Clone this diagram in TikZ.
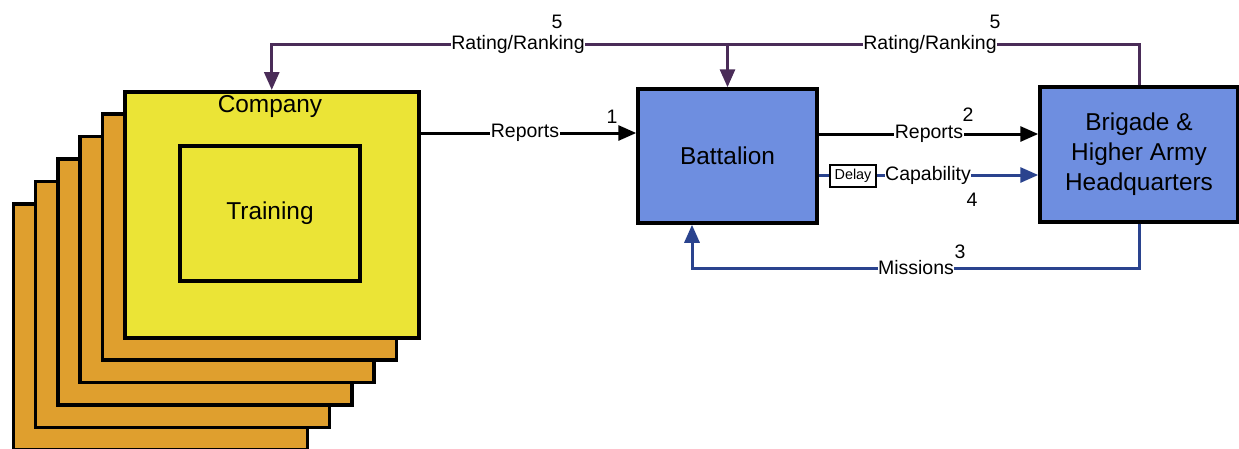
\documentclass[tikz,border=0pt]{standalone}
\usepackage{fontspec}
\setmainfont{Liberation Sans}
\usetikzlibrary{arrows.meta,calc}
\definecolor{yel}{HTML}{EBE436}
\definecolor{org}{HTML}{DF9F2E}
\definecolor{blu}{HTML}{6E8EE0}
\definecolor{purp}{HTML}{4A2C58}
\definecolor{bline}{HTML}{2A438E}
\tikzset{
  box/.style={draw=black,line width=3.5pt,minimum width=294pt,minimum height=246pt,inner sep=0pt},
  bbox/.style={draw=black,line width=3.5pt,fill=blu,inner sep=0pt,font=\fontsize{24.4}{30}\selectfont,align=center},
  lab/.style={fill=white,inner sep=0.5pt,font=\fontsize{19.5}{22}\selectfont},
  num/.style={inner sep=0pt,font=\fontsize{19.5}{22}\selectfont},
  conn/.style={line width=3pt},
  tip/.style={-{Triangle[length=18pt,width=15pt]}},
}
\begin{document}
\begin{tikzpicture}[x=1pt,y=-1pt]
\useasboundingbox (0,0) rectangle (1239,448);
% stacked company boxes
\foreach \i in {5,4,3,2,1}{
  \node[box,fill=org,anchor=north west] (stack\i) at ({123-22.3*\i},{90+22.4*\i}) {};
}
\node[box,fill=yel,anchor=north west] (comp) at (123,90) {};
\node[font=\fontsize{24.4}{30}\selectfont,inner sep=0pt] (complab) at (270,107) {Company};
\node[draw=black,line width=3.5pt,minimum width=180pt,minimum height=135pt,inner sep=0pt,font=\fontsize{24.4}{30}\selectfont] (train) at (270,213.5) {Training};
% battalion and brigade
\node[bbox,minimum width=179pt,minimum height=134pt] (bat) at (727.5,156) {Battalion};
\node[bbox,minimum width=198pt,minimum height=135pt] (brig) at (1139,154.5) {Brigade \&\\Higher Army\\Headquarters};
% coordinates
\coordinate (rr) at (brig.north |- 0,44);
\coordinate (rb) at (bat.north |- 0,44);
\coordinate (ml) at (692,268);
% rating/ranking
\draw[conn,draw=purp,tip] (brig.north) -- (rr) -| (comp.north);
\draw[conn,draw=purp,tip] (rb) -- (bat.north);
% reports
\draw[conn,draw=black,tip] (comp.east |- 0,133) -- (bat.west |- 0,133);
\draw[conn,draw=black,tip] (bat.east |- 0,134) -- (brig.west |- 0,134);
% capability
\draw[conn,draw=bline,tip] (bat.east |- 0,175) -- (brig.west |- 0,175);
% missions
\draw[conn,draw=bline,tip] (brig.south) |- (ml) -- (bat.south -| ml);
% labels
\node[lab] (l5a) at (518,44) {Rating/Ranking};
\node[lab] (l5b) at (930,44) {Rating/Ranking};
\node[lab] (l1) at (525,133) {Reports};
\node[lab] (l2) at (929,134) {Reports};
\node[lab] (l4) at (928,175) {Capability};
\node[lab] (l3) at (916,268) {Missions};
\node[draw=black,line width=1.2pt,fill=white,inner sep=2pt,minimum width=46pt,minimum height=22pt,font=\fontsize{14.4}{16}\selectfont] (delay) at (853,176) {Delay};
\node[num] (n5a) at (557,22) {5};
\node[num] (n5b) at (995,22) {5};
\node[num] (n1) at (612,117) {1};
\node[num] (n2) at (968,115) {2};
\node[num] (n4) at (972,200) {4};
\node[num] (n3) at (960,252) {3};
\end{tikzpicture}
\end{document}
